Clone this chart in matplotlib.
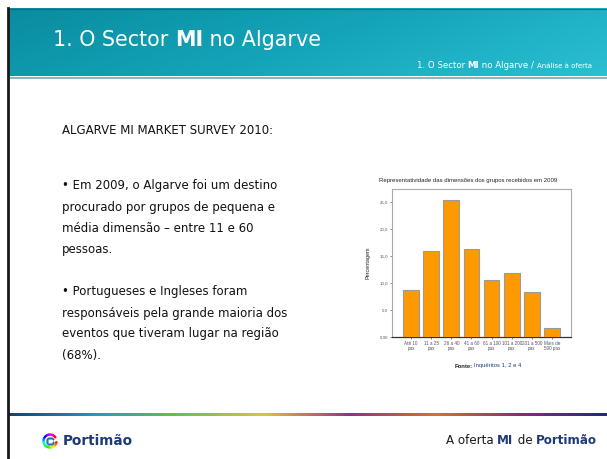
import numpy as np
import matplotlib
matplotlib.use("Agg")
import matplotlib.pyplot as plt
from matplotlib.colors import LinearSegmentedColormap

categories = ["Até 10\npax", "11 a 25\npax", "26 a 40\npax", "41 a 60\npax",
              "61 a 100\npax", "101 a 200\npax", "201 a 500\npax", "Mais de\n500 pax"]
values = [8.7, 15.9, 25.4, 16.3, 10.6, 11.8, 8.3, 1.7]
yticks = [0, 5, 10, 15, 20, 25]
ytick_labels = ["0,00", "5,0", "10,0", "15,0", "20,0", "25,0"]

W, H = 607, 459
fig = plt.figure(figsize=(W / 100, H / 100), dpi=100)
fig.patch.set_facecolor("white")

bg = fig.add_axes([0, 0, 1, 1])
bg.set_xlim(0, W)
bg.set_ylim(H, 0)
bg.axis("off")

# header gradient (horizontal + slight vertical)
gx = np.linspace(0, 1, 256)
gy = np.linspace(0, 1, 64)
G = 0.75 * gx[None, :] + 0.25 * gy[:, None]
hdr_cmap = LinearSegmentedColormap.from_list("hdr", ["#0a8c9f", "#14a4b9", "#2bbfd3"])
bg.imshow(G, extent=[8, W, 76, 8], cmap=hdr_cmap, aspect="auto", zorder=1,
          origin="upper")
bg.plot([8, W], [78.3, 78.3], color="#8fb0c4", lw=1.4, zorder=2)
bg.plot([8, W], [8.5, 8.5], color="#0a6f80", lw=0.8, zorder=2)
bg.plot([8, 8], [8, H], color="#1a1a1a", lw=2, zorder=3)

fig.canvas.draw()
r = fig.canvas.get_renderer()


def put_runs(x, y, runs, ha="left"):
    items, widths = [], []
    for txt, wt, col, size in runs:
        t = bg.text(0, y, txt, fontsize=size, fontweight=wt, color=col,
                    va="center", ha="left", family="DejaVu Sans", zorder=5)
        bb = t.get_window_extent(renderer=r)
        items.append(t)
        widths.append(bb.width)
    total = sum(widths)
    cx = x if ha == "left" else x - total
    for t, w in zip(items, widths):
        t.set_x(cx)
        cx += w


put_runs(53, 40, [("1. O Sector ", "normal", "white", 14.9), ("MI", "bold", "white", 14.9),
                  (" no Algarve", "normal", "white", 14.9)])
put_runs(592, 66, [("1. O Sector ", "normal", "white", 6.2), ("MI", "bold", "white", 6.2),
                   (" no Algarve / ", "normal", "white", 6.2),
                   ("Análise à oferta", "normal", "white", 5.0)], ha="right")

body_size = 8.5
bg.text(62, 131, "ALGARVE MI MARKET SURVEY 2010:", fontsize=body_size, va="center",
        ha="left", color="#111111", family="DejaVu Sans")
lines1 = ["• Em 2009, o Algarve foi um destino", "procurado por grupos de pequena e",
          "média dimensão – entre 11 e 60", "pessoas."]
lines2 = ["• Portugueses e Ingleses foram", "responsáveis pela grande maioria dos",
          "eventos que tiveram lugar na região", "(68%)."]
for i, s in enumerate(lines1):
    bg.text(62, 186 + 21 * i, s, fontsize=body_size, va="center", ha="left",
            color="#111111", family="DejaVu Sans")
for i, s in enumerate(lines2):
    bg.text(62, 292 + 21 * i, s, fontsize=body_size, va="center", ha="left",
            color="#111111", family="DejaVu Sans")

# footer rainbow line
foot_cmap = LinearSegmentedColormap.from_list(
    "foot", ["#1b3f6e", "#17a0b8", "#6cc04a", "#d8c830", "#a02a8c", "#e07020",
             "#8a2a7a", "#1b2f6e"])
bg.imshow(gx[None, :], extent=[8, W, 416.2, 413.2], cmap=foot_cmap, aspect="auto",
          zorder=2)

# logo
theta = np.linspace(0.2, 2 * np.pi - 0.6, 36)
cols = plt.cm.hsv(np.linspace(0, 1, 36))
bg.scatter(50 + 6.5 * np.cos(theta), 441 + 6.5 * np.sin(theta), s=3, c=cols, zorder=5,
           linewidths=0)
bg.scatter(50 + 3.5 * np.cos(theta), 441 + 3.5 * np.sin(theta), s=1.5,
           c="#2a6fb0", zorder=5, linewidths=0)
bg.text(63, 441, "Portimão", fontsize=9.8, fontweight="bold", color="#1f3a78",
        va="center", ha="left", family="DejaVu Sans")
put_runs(597, 440, [("A oferta ", "normal", "#1a1a1a", 8.6), ("MI", "bold", "#1f3a78", 8.6),
                    (" de ", "normal", "#1a1a1a", 8.6), ("Portimão", "bold", "#1f3a78", 8.6)],
         ha="right")

# chart
ax = fig.add_axes([392 / W, 1 - 337 / H, 179 / W, 148 / H])
x = np.arange(len(categories))
ax.bar(x, values, width=0.78, color="#ff9900", edgecolor="#9a9a9a", linewidth=0.8,
       zorder=3)
ax.set_xlim(-0.95, len(categories) - 1 + 0.95)
ax.set_ylim(0, 27.4)
ax.set_yticks(yticks)
ax.set_yticklabels(ytick_labels, fontsize=3.2, color="#333333", family="Liberation Sans")
ax.set_xticks(x)
ax.set_xticklabels(categories, fontsize=3.3, color="#333333", family="Liberation Sans",
                   linespacing=0.9)
ax.tick_params(axis="both", length=1.5, width=0.5, pad=1.5, colors="#555555")
for side in ["top", "right", "left"]:
    ax.spines[side].set_color("#aaaaaa")
    ax.spines[side].set_linewidth(0.8)
ax.spines["bottom"].set_color("#333333")
ax.spines["bottom"].set_linewidth(0.9)
ax.set_ylabel("Percentagem", fontsize=4, labelpad=6, family="Liberation Sans",
              color="#222222")
ax.set_title("Representatividade das dimensões dos grupos recebidos em 2009",
             fontsize=4.3, loc="left", x=-0.07, pad=5, family="Liberation Sans",
             color="#222222")

bg.text(473, 366, "Fonte:", fontsize=4.2, fontweight="bold", ha="right", va="center",
        family="Liberation Sans", color="#222222")
bg.text(474, 366, "Inquéritos 1, 2 e 4", fontsize=4.2, ha="left", va="center",
        family="Liberation Sans", color="#1f3a78")

fig.savefig("out.png", dpi=100)
